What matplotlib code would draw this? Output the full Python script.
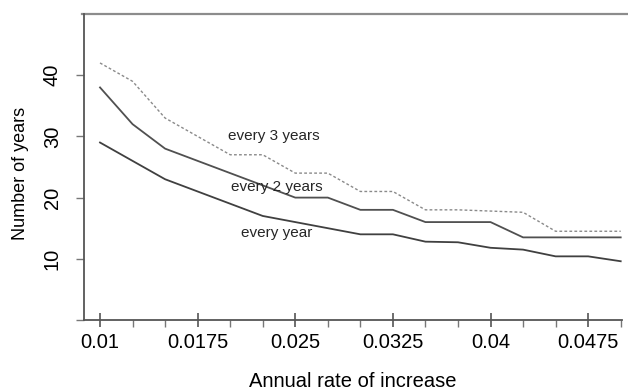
import numpy as np
import matplotlib
matplotlib.use("Agg")
import matplotlib.pyplot as plt

plt.rcParams['font.family'] = ['Liberation Sans', 'DejaVu Sans']

# annual rate of increase
rates = [0.01, 0.0125, 0.015, 0.0175, 0.02, 0.0225, 0.025, 0.0275, 0.03,
         0.0325, 0.035, 0.0375, 0.04, 0.0425, 0.045, 0.0475, 0.05]

# number of years
every_year = [29, 26, 23, 21, 19, 17, 16, 15, 14, 14, 12.8, 12.7, 11.8,
              11.5, 10.4, 10.4, 9.6]
every_2_years = [38, 32, 28, 26, 24, 22, 20, 20, 18, 18, 16, 16, 16,
                 13.5, 13.5, 13.5, 13.5]
every_3_years = [42, 39, 33, 30, 27, 27, 24, 24, 21, 21, 18, 18, 17.8,
                 17.6, 14.5, 14.5, 14.5]

xticks = [0.01, 0.0175, 0.025, 0.0325, 0.04, 0.0475]
xtick_labels = ['0.01', '0.0175', '0.025', '0.0325', '0.04', '0.0475']
yticks = [0, 10, 20, 30, 40]
ytick_labels = ['', '10', '20', '30', '40']

fig = plt.figure(figsize=(6.28, 3.92), dpi=100)
ax = fig.add_axes([84 / 628, 1 - 320 / 392, (622 - 84) / 628, (320 - 14) / 392])

ax.plot(rates, every_3_years, color='#8a8a8a', lw=1.0, linestyle=(0, (2, 1.6)))
ax.plot(rates, every_2_years, color='#505050', lw=1.3)
ax.plot(rates, every_year, color='#404040', lw=1.3)

ax.text(0.0198, 30, 'every 3 years', fontsize=11, color='#262626', va='center')
ax.text(0.0201, 21.8, 'every 2 years', fontsize=11, color='#262626', va='center')
ax.text(0.0208, 14.2, 'every year', fontsize=11, color='#262626', va='center')

ax.set_xlim(0.00877, 0.0501)
ax.set_ylim(0, 50)

ax.set_xticks(xticks, xtick_labels)
ax.set_xticks(np.arange(0.0125, 0.0501, 0.0025), minor=True)
ax.set_yticks(yticks, ytick_labels, rotation=90, va='center')

ax.tick_params(axis='x', which='major', direction='inout', length=10, width=1.2,
               color='#555555', labelsize=14.5, pad=4)
ax.tick_params(axis='x', which='minor', direction='out', length=5, width=1.0,
               color='#777777')
ax.tick_params(axis='y', which='major', direction='out', length=6, width=1.0,
               color='#777777', labelsize=14.5, pad=10)

for side in ['top', 'right']:
    ax.spines[side].set_visible(False)
for side in ['left', 'bottom']:
    ax.spines[side].set_color('#555555')
    ax.spines[side].set_linewidth(1.3)

# top rule of the scanned frame, running to the edge of the page
ax.plot([-0.004, 1.02], [1, 1], transform=ax.transAxes, color='#8c8c8c',
        lw=1.6, clip_on=False)

ax.set_xlabel('Annual rate of increase', fontsize=14.5)
ax.set_ylabel('Number of years', fontsize=13)
ax.xaxis.set_label_coords(0.5, -0.17)
ax.yaxis.set_label_coords(-0.102, 0.48)

fig.savefig('out.png', dpi=100)
